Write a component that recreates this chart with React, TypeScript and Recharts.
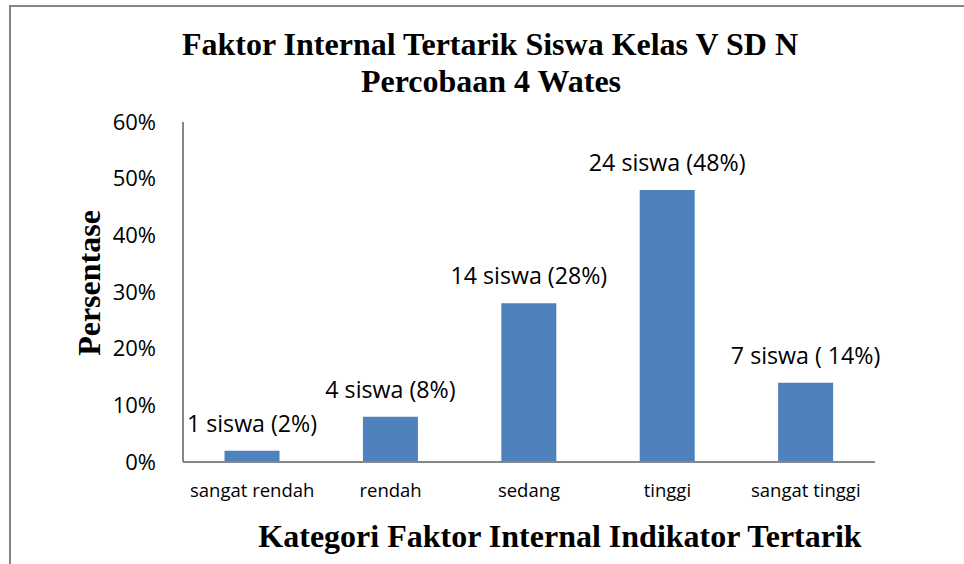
import React from 'react';
import { BarChart, Bar, XAxis, YAxis, LabelList } from 'recharts';

const categories = ['sangat rendah', 'rendah', 'sedang', 'tinggi', 'sangat tinggi'];
const percentages = [0.02, 0.08, 0.28, 0.48, 0.14];
const valueLabels = ['1 siswa (2%)', '4 siswa (8%)', '14 siswa (28%)', '24 siswa (48%)', '7 siswa ( 14%)'];
const yTicks = [0, 0.1, 0.2, 0.3, 0.4, 0.5, 0.6];
const titleLines = ['Faktor Internal Tertarik Siswa Kelas V SD N', 'Percobaan 4 Wates'];
const xTitle = 'Kategori Faktor Internal Indikator Tertarik';
const yTitle = 'Persentase';

const data = categories.map((c, i) => ({ name: c, value: percentages[i], label: valueLabels[i] }));

const AXIS = '#868686';
const SANS = '"Open Sans", "Noto Sans", sans-serif';
const SERIF = '"Liberation Serif", "DejaVu Serif", serif';

const renderValueLabel = (props: any) => {
  const { x, y, width, value } = props;
  return (
    <text
      x={Number(x) + Number(width) / 2}
      y={Number(y) - 19}
      textAnchor="middle"
      fill="#000"
      fontSize={23.2}
      fontFamily={SANS}
    >
      {value}
    </text>
  );
};

export default function App() {
  return (
    <div style={{ position: 'absolute', left: 0, top: 0, width: 964, height: 564, overflow: 'hidden', background: '#fff' }}>
      <div style={{ position: 'absolute', left: 0, top: 0 }}>
        <BarChart
          width={964}
          height={564}
          data={data}
          margin={{ top: 122, right: 89, left: 0, bottom: 72 }}
          barCategoryGap="30%"
        >
          <XAxis
            dataKey="name"
            axisLine={{ stroke: AXIS, strokeWidth: 2 }}
            tickLine={false}
            tickSize={0}
            tickMargin={22}
            height={30}
            interval={0}
            tick={{ fill: '#000', fontSize: 18.5, fontFamily: SANS }}
          />
          <YAxis
            domain={[0, 0.6]}
            ticks={yTicks}
            width={183}
            axisLine={{ stroke: AXIS, strokeWidth: 2 }}
            tickLine={false}
            tickSize={0}
            tickMargin={27}
            interval={0}
            tickFormatter={(v: number) => `${Math.round(v * 100)}%`}
            tick={{ fill: '#000', fontSize: 22, fontFamily: SANS }}
          />
          <Bar dataKey="value" fill="#4F81BD" isAnimationActive={false}>
            <LabelList dataKey="label" position="top" content={renderValueLabel} />
          </Bar>
        </BarChart>
      </div>
      <svg width={964} height={564} style={{ position: 'absolute', left: 0, top: 0, pointerEvents: 'none' }}>
        <line x1={10} y1={6} x2={964} y2={6} stroke={AXIS} strokeWidth={2} />
        <line x1={10} y1={5} x2={10} y2={564} stroke={AXIS} strokeWidth={2} />
        <text x={490} y={55} textAnchor="middle" fontFamily={SERIF} fontWeight="bold" fontSize={32} fill="#000">
          {titleLines[0]}
        </text>
        <text x={491} y={92} textAnchor="middle" fontFamily={SERIF} fontWeight="bold" fontSize={32} fill="#000">
          {titleLines[1]}
        </text>
        <text x={560} y={547} textAnchor="middle" fontFamily={SERIF} fontWeight="bold" fontSize={32} fill="#000">
          {xTitle}
        </text>
        <text
          transform="translate(100,283) rotate(-90)"
          textAnchor="middle"
          fontFamily={SERIF}
          fontWeight="bold"
          fontSize={32}
          fill="#000"
        >
          {yTitle}
        </text>
      </svg>
    </div>
  );
}
